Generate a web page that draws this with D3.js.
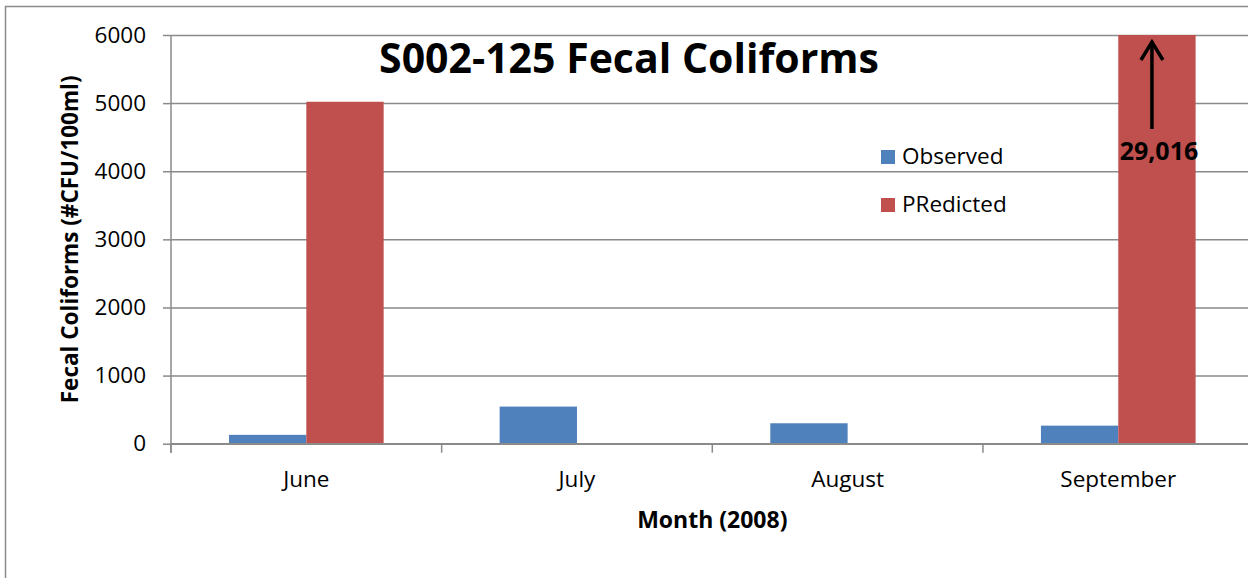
<!DOCTYPE html>
<html>
<head>
<meta charset="utf-8">
<script src="https://cdn.jsdelivr.net/npm/d3@7"></script>
<style>
  html, body { margin: 0; padding: 0; background: #fff; overflow: hidden; }
  svg { display: block; font-family: "Open Sans", sans-serif; }
</style>
</head>
<body>
<svg id="chart" width="1248" height="578"></svg>
<script>
// Monthly fecal coliform counts at station S002-125, 2008
const months = ["June", "July", "August", "September"];
const seriesNames = ["Observed", "PRedicted"];
const observed = [130, 545, 300, 265];
const predicted = [5020, 0, 0, 29016];
const yTicks = [0, 1000, 2000, 3000, 4000, 5000, 6000];

const colors = { Observed: "#4F81BD", PRedicted: "#C0504D" };
const gridColor = "#8a8a8a";

const svg = d3.select("#chart");

// chart frame
svg.append("rect")
  .attr("x", 5.5).attr("y", 6.5)
  .attr("width", 1400).attr("height", 700)
  .attr("fill", "#fff")
  .attr("stroke", gridColor).attr("stroke-width", 1.5);

const plot = { left: 171, top: 35, right: 1253.6, bottom: 443.7 };
const plotW = plot.right - plot.left;

const x = d3.scaleBand().domain(months).range([plot.left, plot.right]).paddingInner(0).paddingOuter(0);
const xs = d3.scaleBand().domain(seriesNames).range([0, x.bandwidth()]).paddingInner(0).paddingOuter(0.75);
const y = d3.scaleLinear().domain([0, 6000]).range([plot.bottom, plot.top]);

// gridlines
const grid = svg.append("g").attr("transform", `translate(${plot.left},0)`)
  .call(d3.axisLeft(y).tickValues(yTicks).tickSize(-plotW).tickSizeOuter(0).tickFormat(""));
grid.select(".domain").remove();
grid.selectAll("line").attr("stroke", gridColor).attr("stroke-width", 1.5);

// clip bars to the plot area
svg.append("clipPath").attr("id", "plotClip")
  .append("rect").attr("x", plot.left).attr("y", plot.top)
  .attr("width", plotW).attr("height", plot.bottom - plot.top);

const rows = months.map((m, i) => ({ month: m, values: [
  { key: "Observed", value: observed[i] },
  { key: "PRedicted", value: predicted[i] }
]}));

const bars = svg.append("g").attr("clip-path", "url(#plotClip)");
bars.selectAll("g").data(rows).join("g")
  .attr("transform", d => `translate(${x(d.month)},0)`)
  .selectAll("rect").data(d => d.values.filter(v => v.value > 0)).join("rect")
  .attr("x", d => xs(d.key))
  .attr("width", xs.bandwidth())
  .attr("y", d => y(d.value))
  .attr("height", d => y(0) - y(d.value))
  .attr("fill", d => colors[d.key]);

// y axis with labels
const yAxis = svg.append("g").attr("transform", `translate(${plot.left},0)`)
  .call(d3.axisLeft(y).tickValues(yTicks).tickSize(8).tickSizeOuter(0).tickPadding(17).tickFormat(d3.format("d")));
yAxis.select(".domain").attr("d", `M0,${plot.top}V${plot.bottom + 9}`);
yAxis.selectAll("path, line").attr("stroke", gridColor).attr("stroke-width", 1.5);
yAxis.selectAll("text").attr("font-size", 22.5).attr("fill", "#000")
  .attr("font-family", "Open Sans, sans-serif");

// x axis: baseline, boundary ticks, category labels
const xAxis = svg.append("g").attr("transform", `translate(0,${plot.bottom})`);
xAxis.append("line").attr("x1", plot.left).attr("x2", plot.right)
  .attr("stroke", gridColor).attr("stroke-width", 1.5);
const bounds = months.map(m => x(m)).concat([x.range()[1]]);
xAxis.selectAll("line.tick").data(bounds).join("line").attr("class", "tick")
  .attr("x1", d => d).attr("x2", d => d).attr("y1", 0).attr("y2", 9)
  .attr("stroke", gridColor).attr("stroke-width", 1.5);
xAxis.selectAll("text").data(months).join("text")
  .attr("x", d => x(d) + x.bandwidth() / 2)
  .attr("y", 43)
  .attr("text-anchor", "middle")
  .attr("font-size", 22.5)
  .text(d => d);

// axis titles
svg.append("text")
  .attr("x", (plot.left + plot.right) / 2).attr("y", 528)
  .attr("text-anchor", "middle").attr("font-size", 23).attr("font-weight", 700)
  .text("Month (2008)");
svg.append("text")
  .attr("transform", `translate(78,${(plot.top + plot.bottom) / 2}) rotate(-90)`)
  .attr("text-anchor", "middle").attr("font-size", 22.5).attr("font-weight", 700)
  .text("Fecal Coliforms (#CFU/100ml)");

// title
svg.append("text")
  .attr("x", 629).attr("y", 73)
  .attr("text-anchor", "middle").attr("font-size", 41).attr("font-weight", 700)
  .text("S002-125 Fecal Coliforms");

// legend
const legend = svg.append("g");
seriesNames.forEach((name, i) => {
  const ly = 164 + i * 48;
  legend.append("rect").attr("x", 881).attr("y", ly - 14).attr("width", 14).attr("height", 14)
    .attr("fill", colors[name]);
  legend.append("text").attr("x", 902).attr("y", ly).attr("font-size", 22.5).text(name);
});

// off-scale value marker for the clipped September prediction
const sepIdx = months.indexOf("September");
const sepVal = predicted[sepIdx];
const ax = x("September") + xs("PRedicted") + xs.bandwidth() / 2 - 5;
const marker = svg.append("g").attr("stroke", "#000").attr("stroke-width", 3.5).attr("fill", "none");
marker.append("line").attr("x1", ax).attr("x2", ax).attr("y1", 129).attr("y2", 41);
marker.append("path").attr("d", `M${ax - 11},${60} L${ax},${42} L${ax + 11},${60}`)
  .attr("stroke-linejoin", "miter");
svg.append("text")
  .attr("x", ax + 7).attr("y", 160)
  .attr("text-anchor", "middle").attr("font-size", 25).attr("font-weight", 700)
  .text(d3.format(",")(sepVal));
</script>
</body>
</html>
